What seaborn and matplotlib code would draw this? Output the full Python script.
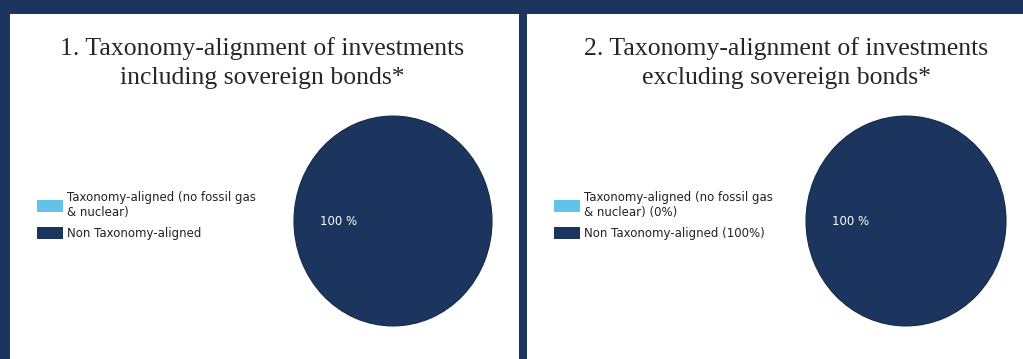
import matplotlib
matplotlib.use("Agg")
import matplotlib.pyplot as plt
import matplotlib.patches as mpatches
import seaborn as sns

# Data
categories = ["Taxonomy-aligned (no fossil gas\n& nuclear)", "Non Taxonomy-aligned"]
incl_values = [0, 100]
excl_values = [0, 100]
excl_labels = ["Taxonomy-aligned (no fossil gas\n& nuclear) (0%)", "Non Taxonomy-aligned (100%)"]
titles = ["1. Taxonomy-alignment of investments\nincluding sovereign bonds*",
          "2. Taxonomy-alignment of investments\nexcluding sovereign bonds*"]

navy = "#1b355e"
light_blue = "#62c2ea"
colors = [light_blue, navy]

sns.set_theme(style="white")
plt.rcParams["font.family"] = ["DejaVu Sans"]

W, H = 1023, 359
fig = plt.figure(figsize=(W / 100, H / 100), dpi=100)
fig.patch.set_facecolor(navy)


def px(x0, y0, x1, y1):
    # pixel box (top-left origin) -> figure fraction rect
    return [x0 / W, (H - y1) / H, (x1 - x0) / W, (y1 - y0) / H]


# White panels
for box in [(10, 14, 519, 359), (527, 14, 1023, 359)]:
    bg = fig.add_axes(px(*box))
    bg.set_facecolor("white")
    bg.set_xticks([])
    bg.set_yticks([])
    for s in bg.spines.values():
        s.set_visible(False)

# Titles
fig.text(262 / W, 1 - 63 / H, titles[0], ha="center", va="center",
         family="Liberation Serif", fontsize=18.5, color="#262626", linespacing=1.38)
fig.text(786 / W, 1 - 63 / H, titles[1], ha="center", va="center",
         family="Liberation Serif", fontsize=18.5, color="#262626", linespacing=1.38)


def pct_fmt(p):
    return f"{p:.0f} %" if p > 0 else ""


panels = [
    (incl_values, categories, (293, 115, 493, 327), (37, 191)),
    (excl_values, excl_labels, (805, 115, 1007, 327), (554, 191)),
]

for values, labels, pie_box, leg_pos in panels:
    ax = fig.add_axes(px(*pie_box))
    ax.set_facecolor("none")
    wedges, texts, autotexts = ax.pie(values, colors=colors, startangle=0,
                                      autopct=pct_fmt, pctdistance=0.55,
                                      wedgeprops=dict(edgecolor="#15294a", linewidth=0.8))
    for t in autotexts:
        t.set_color("white")
        t.set_fontsize(8.5)
    ax.set_aspect("auto")
    ax.set_xlim(-1.01, 1.01)
    ax.set_ylim(-1.01, 1.01)
    ax.axis("off")

    handles = [mpatches.Patch(facecolor=c, edgecolor="none") for c in colors]
    fig.legend(handles, labels, loc="upper left",
               bbox_to_anchor=(leg_pos[0] / W, 1 - leg_pos[1] / H),
               bbox_transform=fig.transFigure, frameon=False, fontsize=8.5,
               handlelength=2.2, handleheight=1.25, handletextpad=0.35,
               borderpad=0, borderaxespad=0, labelspacing=0.65,
               labelcolor="#222222")

fig.savefig("out.png", dpi=100, facecolor=fig.get_facecolor())
